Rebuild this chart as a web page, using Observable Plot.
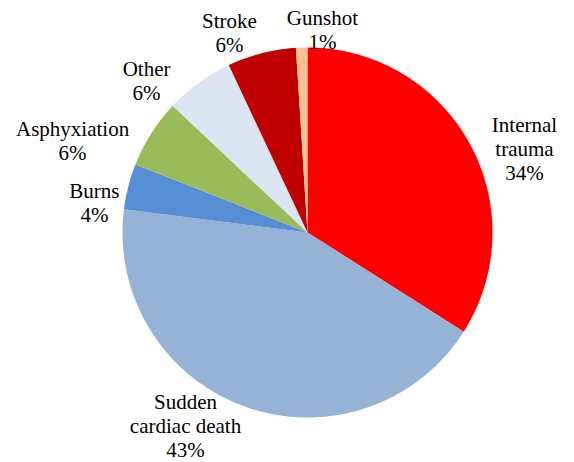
<!DOCTYPE html>
<html><head><meta charset="utf-8">
<script src="https://cdn.jsdelivr.net/npm/d3@7"></script>
<script src="https://cdn.jsdelivr.net/npm/@observablehq/plot@0.6"></script>
<style>
body{margin:0;background:#fff}
#chart svg, #chart svg text, #chart svg tspan { font-family: "Liberation Serif", "Times New Roman", serif !important; }
</style>
</head><body><div id="chart"></div>
<script>
const categories = ["Internal trauma","Sudden cardiac death","Burns","Asphyxiation","Other","Stroke","Gunshot"];
const labelLines = ["Internal\ntrauma","Sudden\ncardiac death","Burns","Asphyxiation","Other","Stroke","Gunshot"];
const values = [34,43,4,6,6,6,1];
const colors = ["#FF0000","#95B3D7","#558ED5","#9BBB59","#DCE6F2","#C00000","#FAC090"];

// label placement (layout): angular shift from slice mid-angle (degrees) and radius as fraction of pie radius
const labelAngleShift = [7.6, 12.5, -6.4, -11.0, -10.6, -6.9, 6.0];
const labelRadius = [1.258, 1.234, 1.163, 1.364, 1.197, 1.161, 1.103];

const W = 574, H = 462, R = 185, cx = 307, cy = 232;
const fontSize = 21, lineH = 1.14;
const total = d3.sum(values);
const pie = d3.pie().sort(null).value(d => d)(values);

const polys = [];
pie.forEach((p, i) => {
  const n = Math.max(2, Math.ceil((p.endAngle - p.startAngle) / (Math.PI / 180)));
  polys.push({cat: categories[i], x: 0, y: 0});
  for (let j = 0; j <= n; j++) {
    const a = p.startAngle + (p.endAngle - p.startAngle) * j / n;
    polys.push({cat: categories[i], x: Math.sin(a), y: Math.cos(a)});
  }
});

const labels = pie.map((p, i) => {
  const text = `${labelLines[i]}\n${Math.round(values[i] / total * 100)}%`;
  const a = (p.startAngle + p.endAngle) / 2 + labelAngleShift[i] * Math.PI / 180;
  return {text, x: labelRadius[i] * Math.sin(a), y: labelRadius[i] * Math.cos(a)};
});

const chart = Plot.plot({
  width: W, height: H, margin: 0,
  style: {fontFamily: "'Liberation Serif', 'Times New Roman', serif", background: "#fff"},
  x: {domain: [-cx / R, (W - cx) / R], axis: null},
  y: {domain: [-(H - cy) / R, cy / R], axis: null},
  color: {domain: categories, range: colors},
  marks: [
    Plot.line(polys, {x: "x", y: "y", z: "cat", fill: "cat", stroke: "none", curve: "linear-closed"}),
    Plot.text(labels, {x: "x", y: "y", text: "text", fontSize, fontFamily: "Liberation Serif", lineHeight: lineH, lineAnchor: "middle", textAnchor: "middle", fill: "black"})
  ]
});
document.getElementById("chart").append(chart);
</script>
</body></html>
